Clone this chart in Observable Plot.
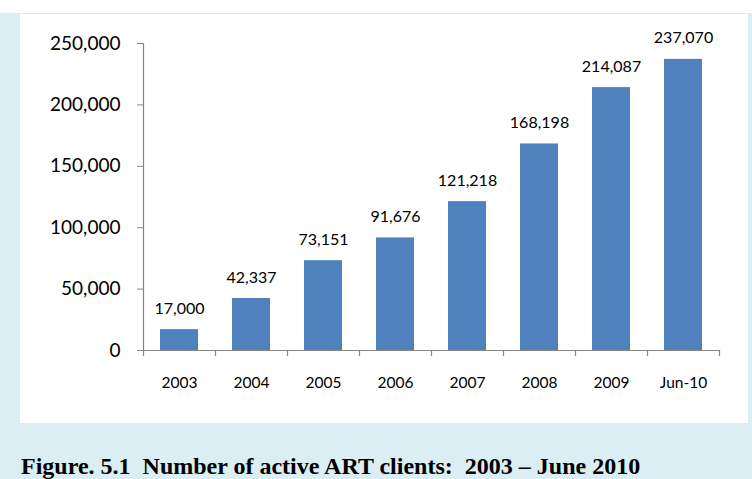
<!DOCTYPE html>
<html>
<head>
<meta charset="utf-8">
<script src="https://cdn.jsdelivr.net/npm/d3@7"></script>
<script src="https://cdn.jsdelivr.net/npm/@observablehq/plot@0.6"></script>
<style>
  html, body { margin: 0; padding: 0; background: #ffffff; width: 752px; height: 479px; overflow: hidden; }
  #frame { position: absolute; left: 0; top: 13px; width: 752px; height: 466px; background: #DBEEF3; }
  #panel { position: absolute; left: 20px; top: 14px; width: 728px; height: 409px; background: #ffffff; }
  #caption { position: absolute; left: 21px; top: 454px; font-family: "Liberation Serif", "Times New Roman", serif;
             font-weight: bold; font-size: 24px; line-height: 24px; white-space: pre; color: #000; }
</style>
</head>
<body>
<div id="frame"></div>
<div id="panel"></div>
<div id="caption">Figure. 5.1  Number of active ART clients:  2003 – June 2010</div>
<script>
const categories = ["2003", "2004", "2005", "2006", "2007", "2008", "2009", "Jun-10"];
const values = [17000, 42337, 73151, 91676, 121218, 168198, 214087, 237070];
const yTicks = [0, 50000, 100000, 150000, 200000, 250000];

const data = categories.map((c, i) => ({category: c, value: values[i]}));
const fmt = d3.format(",");
const axisGray = "#868686";

const chart = Plot.plot({
  width: 728,
  height: 409,
  marginLeft: 123,
  marginRight: 29,
  marginTop: 29,
  marginBottom: 73,
  style: {fontFamily: "Lato, 'Open Sans', sans-serif", background: "transparent", color: "#000", overflow: "visible"},
  x: {domain: categories, paddingInner: 0.47, paddingOuter: 0.235, label: null},
  y: {domain: [0, 250000], label: null},
  marks: [
    Plot.barY(data, {x: "category", y: "value", fill: "#4F81BD"}),
    Plot.ruleY([0], {stroke: axisGray, strokeWidth: 1.2}),
    Plot.ruleX([categories[0]], {stroke: axisGray, strokeWidth: 1.2, dx: -36}),
    Plot.ruleX(categories, {y1: 0, y2: 0, insetBottom: -6, stroke: axisGray, strokeWidth: 1.2, dx: -36}),
    Plot.ruleX([categories[categories.length - 1]], {y1: 0, y2: 0, insetBottom: -6, stroke: axisGray, strokeWidth: 1.2, dx: 36}),
    Plot.axisY({ticks: yTicks, tickFormat: fmt, tickSize: 6, tickPadding: 17, fontSize: 19, stroke: axisGray, fill: "#000", label: null}),
    Plot.axisX({tickSize: 0, tickPadding: 26, fontSize: 15.5, fill: "#000", label: null}),
    Plot.text(data, {x: "category", y: "value", text: d => fmt(d.value), dy: -16, lineAnchor: "bottom", fontSize: 16, fill: "#000"})
  ]
});
document.getElementById("panel").appendChild(chart);
</script>
</body>
</html>
